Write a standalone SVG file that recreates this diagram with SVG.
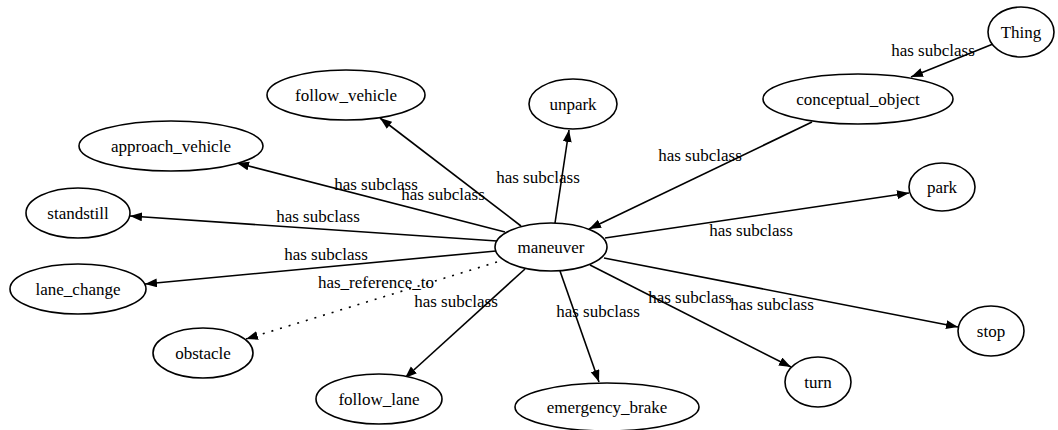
<svg xmlns="http://www.w3.org/2000/svg" width="1058" height="430" viewBox="0 0 1058 430" font-family="Liberation Serif" font-size="17">
<style>
.node ellipse{fill:#fff;stroke:#000;stroke-width:1.6}
text{fill:#000;text-anchor:middle;dominant-baseline:central}
.edge{stroke:#000;stroke-width:1.6;fill:none;marker-end:url(#arr)}
.dot{stroke-dasharray:2 7}
</style>
<defs>
<marker id="arr" markerUnits="userSpaceOnUse" markerWidth="13" markerHeight="10" refX="12" refY="4.5" orient="auto">
<path d="M0,0 L12,4.5 L0,9 z" fill="#000"/>
</marker>
</defs>
<g id="connectors">
<line class="edge" x1="993" y1="44" x2="911" y2="77"/>
<line class="edge" x1="812" y1="122" x2="589" y2="229"/>
<line class="edge" x1="605" y1="238" x2="909" y2="193"/>
<line class="edge" x1="604" y1="258" x2="958" y2="327"/>
<line class="edge" x1="590" y1="265" x2="791" y2="367"/>
<line class="edge" x1="560" y1="271" x2="599" y2="382"/>
<line class="edge" x1="525" y1="269" x2="405" y2="378"/>
<line class="edge dot" x1="497" y1="262" x2="246" y2="339"/>
<line class="edge" x1="496" y1="251" x2="145" y2="284"/>
<line class="edge" x1="497" y1="241" x2="130" y2="216"/>
<line class="edge" x1="505" y1="232" x2="237" y2="163"/>
<line class="edge" x1="521" y1="226" x2="380" y2="118"/>
<line class="edge" x1="555" y1="223" x2="569" y2="130"/>
<text x="933" y="50">has subclass</text>
<text x="700" y="155">has subclass</text>
<text x="751" y="230">has subclass</text>
<text x="772" y="304">has subclass</text>
<text x="690" y="297">has subclass</text>
<text x="598" y="311">has subclass</text>
<text x="456" y="301">has subclass</text>
<text x="376" y="282">has_reference_to</text>
<text x="326" y="254">has subclass</text>
<text x="318" y="216">has subclass</text>
<text x="376" y="184">has subclass</text>
<text x="443" y="194">has subclass</text>
<text x="538" y="177">has subclass</text>
</g>
<g id="Thing" class="node"><ellipse cx="1021" cy="32" rx="33" ry="25"/><text x="1021" y="32">Thing</text></g>
<g id="conceptual_object" class="node"><ellipse cx="858" cy="99" rx="95" ry="25"/><text x="858" y="99">conceptual_object</text></g>
<g id="park" class="node"><ellipse cx="942" cy="187" rx="33" ry="24"/><text x="942" y="187">park</text></g>
<g id="unpark" class="node"><ellipse cx="573" cy="104" rx="44" ry="25"/><text x="573" y="104">unpark</text></g>
<g id="follow_vehicle" class="node"><ellipse cx="346" cy="95" rx="79" ry="25"/><text x="346" y="95">follow_vehicle</text></g>
<g id="approach_vehicle" class="node"><ellipse cx="171" cy="146" rx="92" ry="25"/><text x="171" y="146">approach_vehicle</text></g>
<g id="standstill" class="node"><ellipse cx="78" cy="213" rx="52" ry="25"/><text x="78" y="213">standstill</text></g>
<g id="maneuver" class="node"><ellipse cx="551" cy="247" rx="56" ry="24"/><text x="551" y="247">maneuver</text></g>
<g id="lane_change" class="node"><ellipse cx="78" cy="289" rx="68" ry="25"/><text x="78" y="289">lane_change</text></g>
<g id="obstacle" class="node"><ellipse cx="203" cy="353" rx="50" ry="25"/><text x="203" y="353">obstacle</text></g>
<g id="follow_lane" class="node"><ellipse cx="379" cy="399" rx="63" ry="25"/><text x="379" y="399">follow_lane</text></g>
<g id="emergency_brake" class="node"><ellipse cx="607" cy="407" rx="92" ry="24"/><text x="607" y="407">emergency_brake</text></g>
<g id="turn" class="node"><ellipse cx="818" cy="382" rx="33" ry="25"/><text x="818" y="382">turn</text></g>
<g id="stop" class="node"><ellipse cx="991" cy="331" rx="33" ry="25"/><text x="991" y="331">stop</text></g>
</svg>
